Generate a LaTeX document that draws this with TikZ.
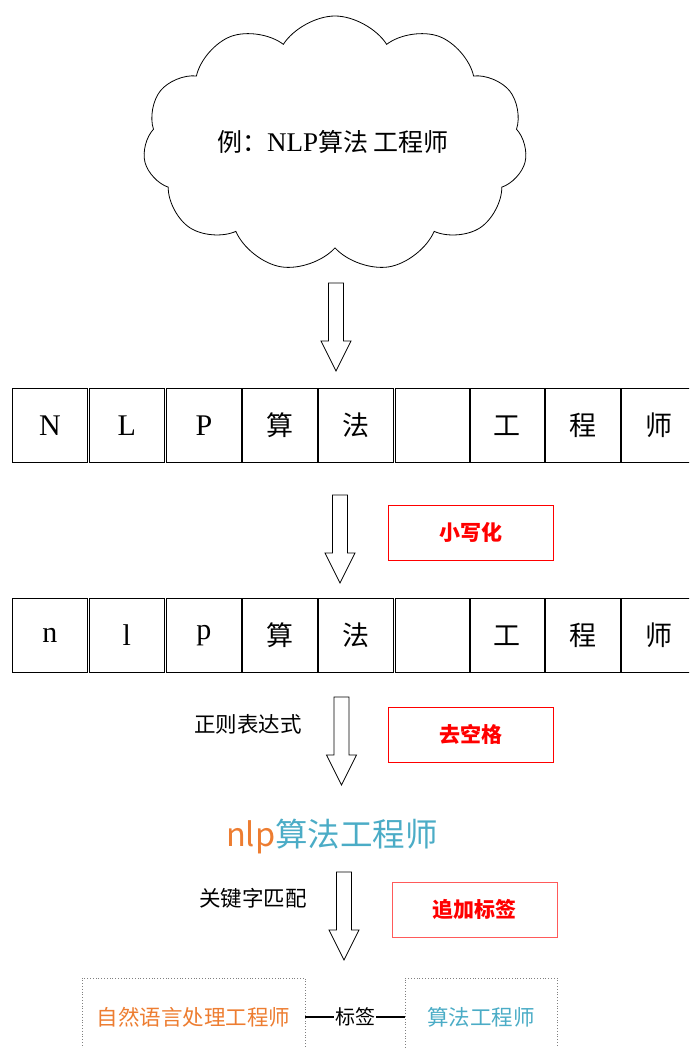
\documentclass[tikz,border=0pt]{standalone}
\usepackage{fontspec}
\setmainfont{Noto Sans CJK SC}
\newfontfamily\lat{Liberation Serif}
\usetikzlibrary{shapes.symbols}
\definecolor{orng}{HTML}{ED7D31}
\definecolor{tealb}{HTML}{4BACC6}
\definecolor{redl}{HTML}{FF5A5A}
\newcommand{\cellLat}[1]{{\lat\fontsize{30}{30}\selectfont #1}}
\begin{document}
\begin{tikzpicture}[x=1pt,y=-1pt,
  cell/.style={draw,line width=0.8pt,minimum width=75pt,minimum height=74pt,inner sep=0pt,anchor=north west,font=\fontsize{27}{27}\selectfont},
  redbox/.style={draw=red,line width=0.9pt,minimum width=165pt,minimum height=55pt,text=red,font=\fontsize{21}{21}\selectfont\bfseries},
  lbl/.style={font=\fontsize{21.5}{21.5}\selectfont},
  dotbox/.style={draw=gray,dotted,line width=0.8pt,minimum height=78pt,inner sep=0pt,font=\fontsize{21.5}{21.5}\selectfont},
  downarrow/.pic={\draw[line width=0.8pt] (-7.5,0) -- (7.5,0) -- (7.5,58) -- (15,58) -- (0,88) -- (-15,58) -- (-7.5,58) -- cycle;}
]
\useasboundingbox (0,0) rectangle (689,1048);
\clip (0,0) rectangle (689,1048);

% cloud
\node[cloud,draw,line width=0.8pt,cloud puffs=11,cloud puff arc=115,aspect=1.5,minimum width=384pt,minimum height=256pt,inner sep=0pt] (cl) at (335,144) {};
\node[font=\fontsize{25}{25}\selectfont] (ct) at (333,142) {例：{\lat\fontsize{27}{27}\selectfont NLP}算法 工程师};

% arrows
\pic (a1) at (336,283) {downarrow};
\pic (a2) at (340,495) {downarrow};
\pic (a3) at (341.5,697) {downarrow};
\pic (a4) at (344,872) {downarrow};

% row 1
\foreach \n/\x/\t in {1/12/{\cellLat{N}},2/89/{\cellLat{L}},3/166/{\cellLat{P}},4/242/算,5/318/法,6/395/{},7/469/工,8/545/程,9/621/师}{
  \node[cell] (p\n) at (\x,388) {\t};
}
% row 2
\foreach \n/\x/\t in {1/12/{\cellLat{n}},2/89/{\cellLat{l}},3/166/{\cellLat{p}},4/242/算,5/318/法,6/395/{},7/469/工,8/545/程,9/621/师}{
  \node[cell] (q\n) at (\x,598) {\t};
}

% red boxes
\node[redbox] (t1) at (470.5,532.5) {小写化};
\node[redbox] (t2) at (470.5,734.5) {去空格};
\node[redbox,draw=redl] (t3) at (474.5,909.5) {追加标签};

% labels
\node[lbl] (l1) at (248,724) {正则表达式};
\node[lbl] (l2) at (253,898) {关键字匹配};

% result
\node[font=\fontsize{32.5}{32.5}\selectfont] (res) at (332,836) {\textcolor{orng}{nlp}\textcolor{tealb}{算法工程师}};

% bottom
\node[dotbox,minimum width=223pt,text=orng] (b1) at (193.5,1017) {自然语言处理工程师};
\node[dotbox,minimum width=152pt,text=tealb] (b2) at (481,1017) {算法工程师};
\draw[line width=1.6pt] (b1) -- node[fill=white,inner sep=1pt,font=\fontsize{20}{20}\selectfont] (tg) {标签} (b2);
\end{tikzpicture}
\end{document}
